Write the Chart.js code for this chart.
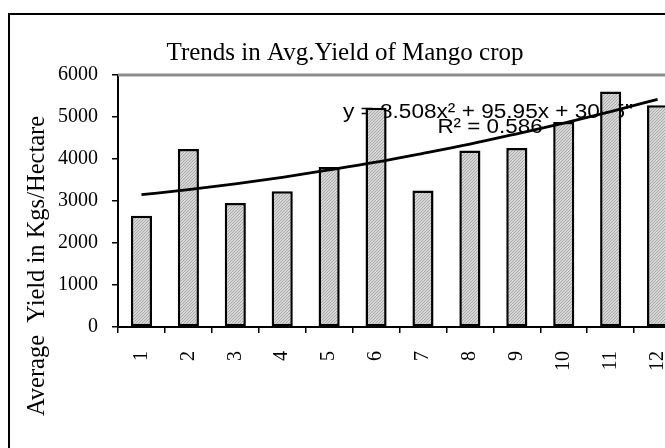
<!DOCTYPE html>
<html lang="en">
<head>
    <meta charset="UTF-8">
    <title>Trends in Avg. Yield of Mango crop</title>
    <script src="https://cdn.jsdelivr.net/npm/chart.js"></script>
    <style>
        * {
            margin: 0;
            padding: 0;
            box-sizing: border-box;
        }

        body {
            width: 665px;
            height: 448px;
            overflow: hidden;
            background: #fff;
            position: relative;
        }

        .frame {
            position: absolute;
            left: 8px;
            top: 13px;
            width: 760px;
            height: 520px;
            border: 2px solid #000;
        }

        .chart-box {
            position: absolute;
            left: 0;
            top: 0;
            width: 700px;
            height: 448px;
        }
    </style>
</head>
<body>
    <div class="frame"></div>
    <div class="chart-box">
        <canvas id="yieldChart" width="700" height="448"></canvas>
    </div>

    <script>
        // Data
        const categories = ['1', '2', '3', '4', '5', '6', '7', '8', '9', '10', '11', '12'];
        const yieldValues = [2650, 4240, 2950, 3230, 3810, 5220, 3250, 4200, 4260, 4880, 5610, 5280];
        const trendValues = [3150, 3270, 3410, 3565, 3740, 3925, 4135, 4355, 4600, 4855, 5130, 5420];
        const yTickStep = 1000;
        const yMax = 6000;
        const equationLines = ['y = 8.508x\u00b2 + 95.95x + 3045"', 'R\u00b2 = 0.586'];

        Chart.defaults.font.family = "'Liberation Serif', 'Times New Roman', serif";
        Chart.defaults.color = '#000';

        // light gray dotted fill like the spreadsheet pattern
        function hatchPattern() {
            const c = document.createElement('canvas');
            c.width = 3;
            c.height = 3;
            const g = c.getContext('2d');
            g.fillStyle = '#d6d6d6';
            g.fillRect(0, 0, 3, 3);
            g.fillStyle = '#aaaaaa';
            for (let i = 0; i < 3; i++) {
                g.fillRect(i, 2 - i, 1, 1);
            }
            return g.createPattern(c, 'repeat');
        }

        // extra drawing: plot border, y title, trend equation
        const extras = {
            id: 'extras',
            beforeDatasetsDraw(chart) {
                const ctx = chart.ctx;
                const area = chart.chartArea;
                ctx.save();
                ctx.strokeStyle = '#8c8c8c';
                ctx.lineWidth = 3;
                ctx.beginPath();
                ctx.moveTo(area.left, area.top);
                ctx.lineTo(area.right, area.top);
                ctx.lineTo(area.right, area.bottom);
                ctx.stroke();

                ctx.fillStyle = '#000';
                ctx.font = "20px 'Liberation Sans', Arial, sans-serif";
                ctx.textAlign = 'center';
                ctx.textBaseline = 'alphabetic';
                ctx.save();
                ctx.translate(488, 118);
                ctx.scale(1.13, 1);
                ctx.fillText(equationLines[0], 0, 0);
                ctx.restore();
                ctx.save();
                ctx.translate(490, 133);
                ctx.scale(1.12, 1);
                ctx.fillText(equationLines[1], 0, 0);
                ctx.restore();

                ctx.translate(38, 266);
                ctx.rotate(-Math.PI / 2);
                ctx.font = "24.5px 'Liberation Serif', 'Times New Roman', serif";
                ctx.textBaseline = 'middle';
                ctx.fillText('Average  Yield in Kgs/Hectare', 0, 0);
                ctx.restore();
            }
        };

        const ctx = document.getElementById('yieldChart').getContext('2d');
        new Chart(ctx, {
            data: {
                labels: categories,
                datasets: [
                    {
                        type: 'line',
                        data: trendValues,
                        borderColor: '#000',
                        borderWidth: 2.8,
                        pointRadius: 0,
                        cubicInterpolationMode: 'monotone',
                        order: 0
                    },
                    {
                        type: 'bar',
                        data: yieldValues,
                        backgroundColor: hatchPattern(),
                        borderColor: '#000',
                        borderWidth: 2.5,
                        borderSkipped: false,
                        barPercentage: 0.45,
                        categoryPercentage: 1.0,
                        order: 1
                    }
                ]
            },
            options: {
                responsive: false,
                animation: false,
                layout: {
                    padding: { left: 0, right: 10, top: 0, bottom: 0 }
                },
                plugins: {
                    legend: { display: false },
                    tooltip: { enabled: false },
                    title: {
                        display: true,
                        text: 'Trends in Avg.Yield of Mango crop',
                        font: { size: 25, weight: 'normal' },
                        color: '#000',
                        padding: { top: 38, bottom: 7 }
                    }
                },
                scales: {
                    x: {
                        grid: {
                            display: true,
                            offset: true,
                            drawOnChartArea: false,
                            drawTicks: true,
                            tickLength: 6,
                            color: '#000',
                            lineWidth: 1.5
                        },
                        border: { display: true, color: '#000', width: 2 },
                        ticks: {
                            font: { size: 20 },
                            color: '#000',
                            minRotation: 90,
                            maxRotation: 90,
                            autoSkip: false,
                            padding: 18
                        },
                        afterFit(scale) {
                            scale.height = 121;
                        }
                    },
                    y: {
                        min: 0,
                        max: yMax,
                        grid: {
                            display: true,
                            drawOnChartArea: false,
                            drawTicks: true,
                            tickLength: 6,
                            color: '#000',
                            lineWidth: 1.5
                        },
                        border: { display: true, color: '#000', width: 2 },
                        ticks: {
                            stepSize: yTickStep,
                            font: { size: 20 },
                            color: '#000',
                            padding: 14,
                            callback: (value) => String(value)
                        },
                        afterFit(scale) {
                            scale.width = 118;
                        }
                    }
                }
            },
            plugins: [extras]
        });
    </script>
</body>
</html>
